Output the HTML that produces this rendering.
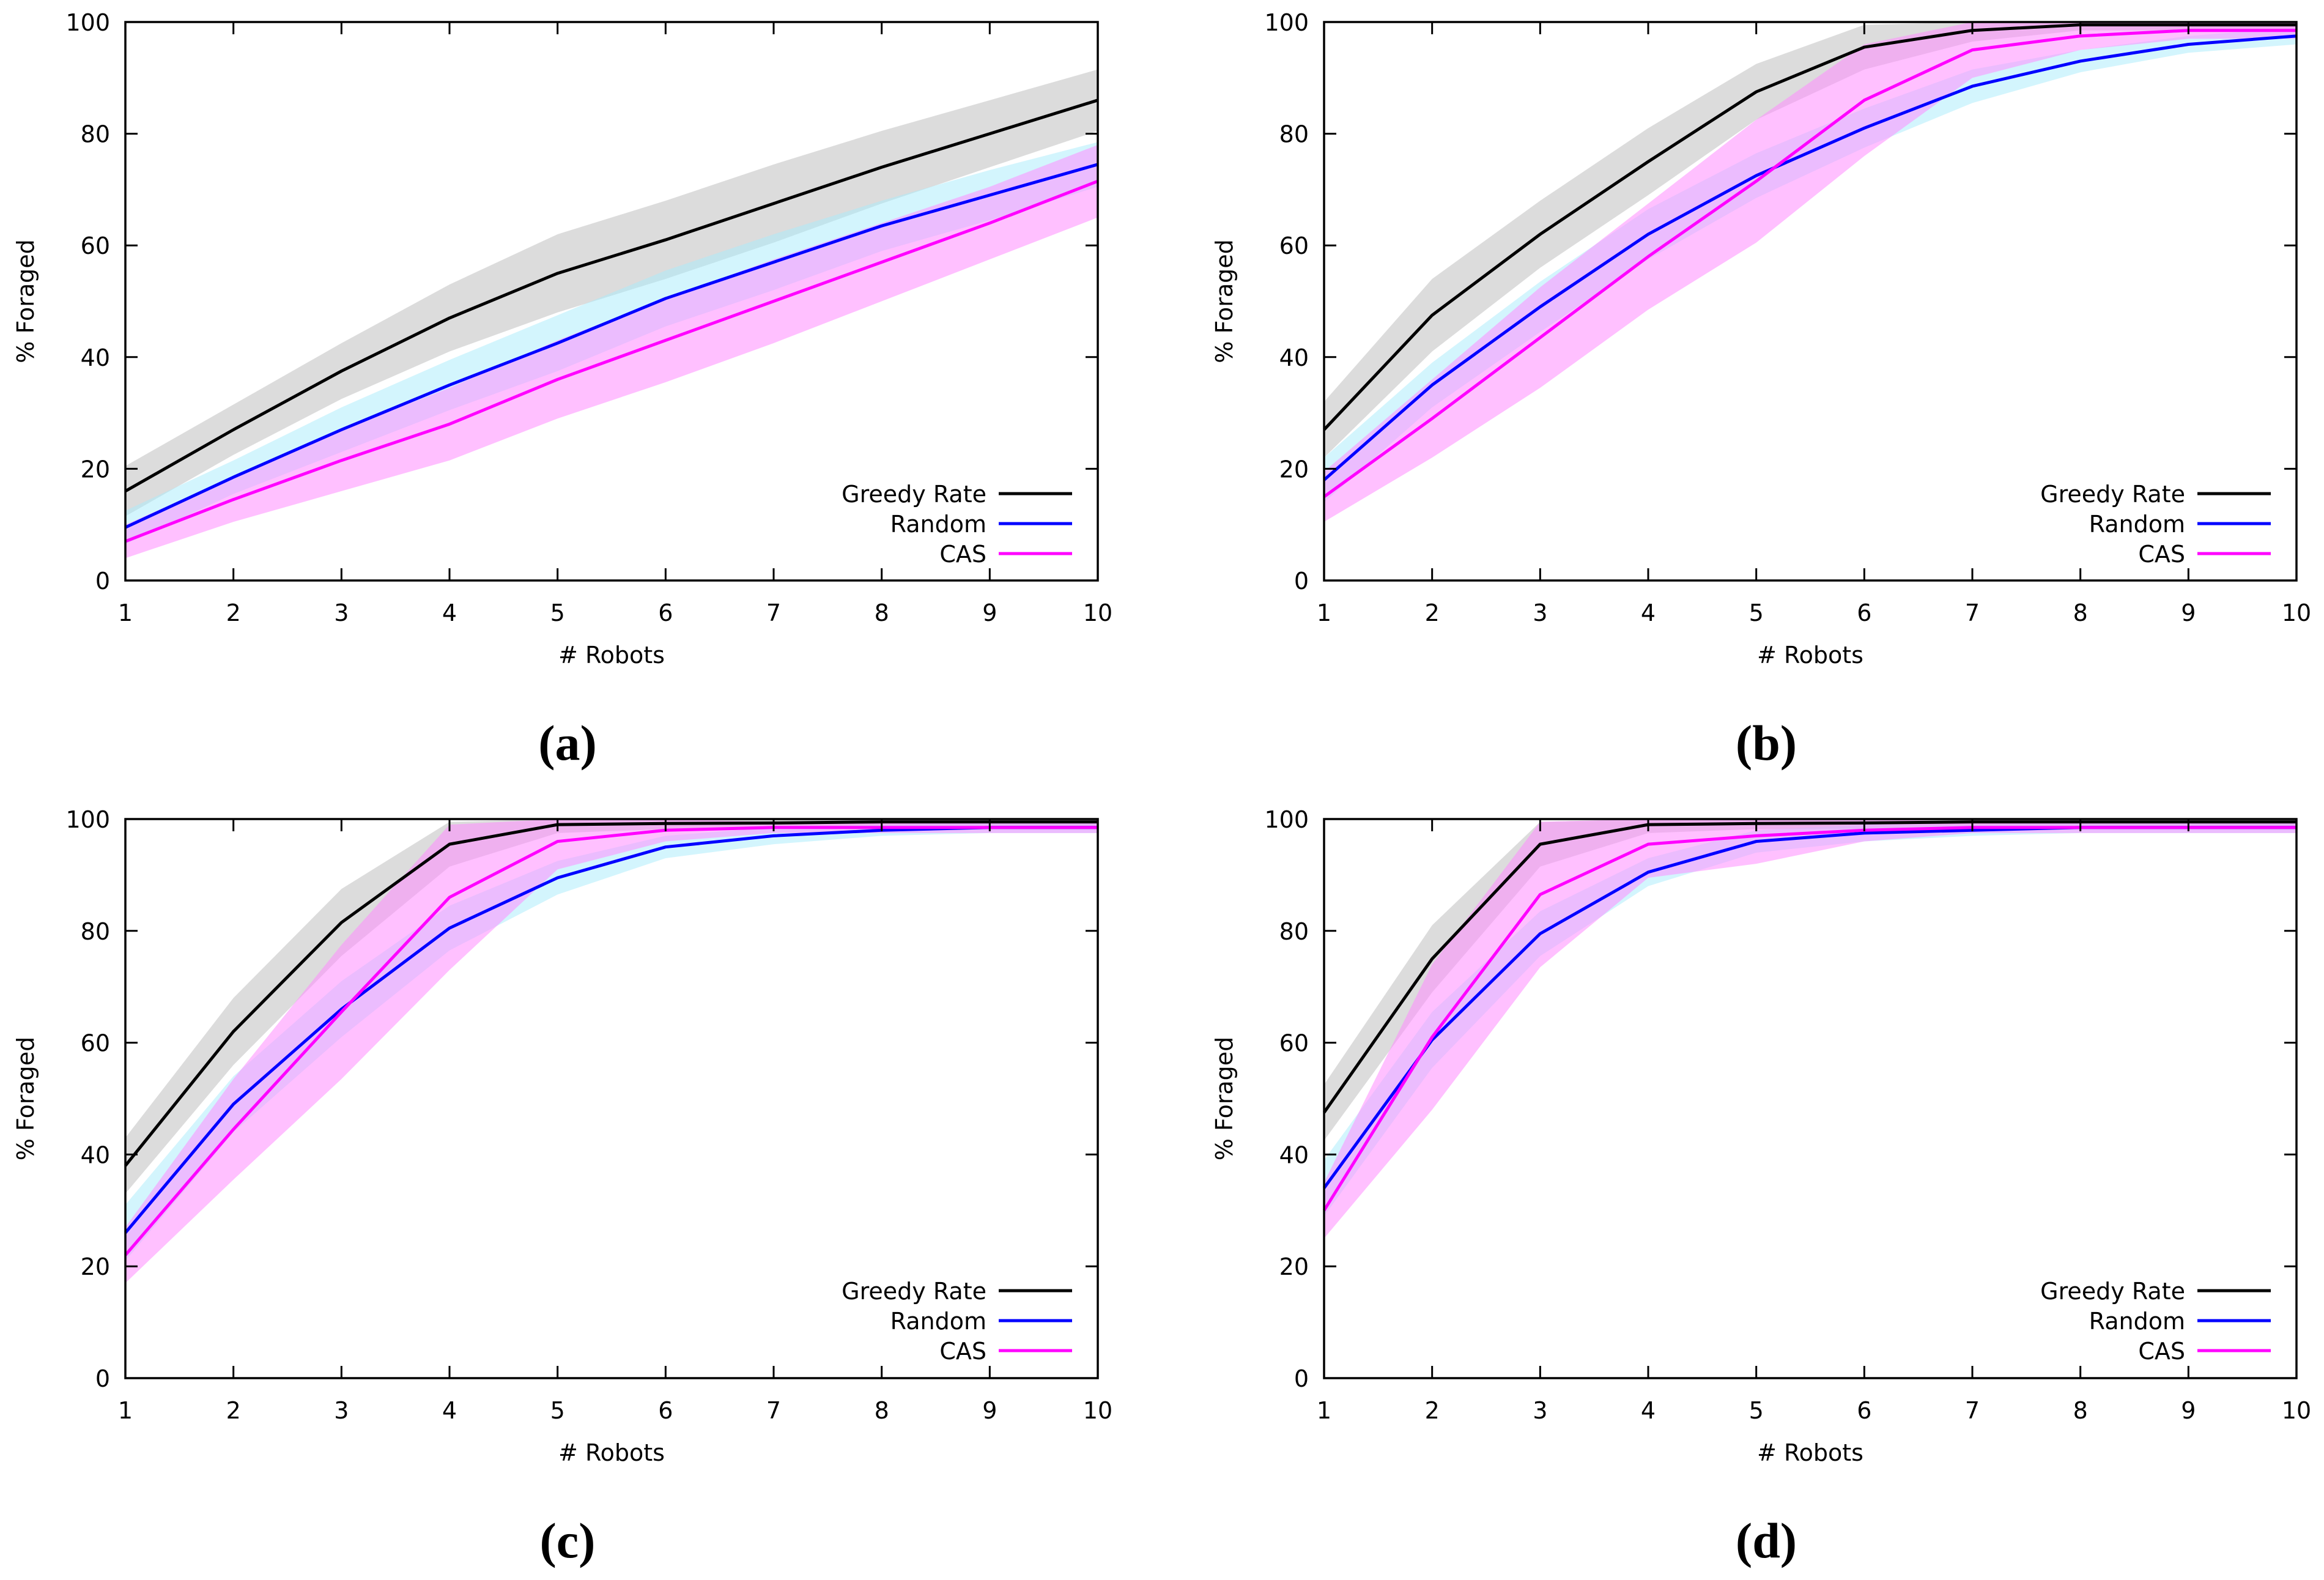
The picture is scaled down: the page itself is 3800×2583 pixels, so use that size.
<!DOCTYPE html>
<html><head><meta charset="utf-8"><style>
html,body{margin:0;padding:0;background:#fff;}
svg{display:block;font-family:"DejaVu Sans","Liberation Sans",sans-serif;}
</style></head><body>
<svg id="fig" width="3800" height="2583" viewBox="0 0 3800 2583"></svg>
<script>
const categories=[1,2,3,4,5,6,7,8,9,10];
const yTicks=[0,20,40,60,80,100];
const panelLabels=['a','b','c','d'];
const seriesNames=['Greedy Rate','Random','CAS'];
// panel a
const aGreedy=[16,27,37.5,47,55,61,67.5,74,80,86];
const aGreedyErr=[4.5,4.5,5,6,7,7,7,6.5,6,5.5];
const aRandom=[9.5,18.5,27,35,42.5,50.5,57,63.5,69,74.5];
const aRandomErr=[3,3,4,4.5,5,5,5,4.5,4.5,4];
const aCAS=[7,14.5,21.5,28,36,43,50,57,64,71.5];
const aCASErr=[3,4,5.5,6.5,7,7.5,7.5,7,6.5,6.5];
// panel b
const bGreedy=[27,47.5,62,75,87.5,95.5,98.5,99.5,99.5,99.5];
const bGreedyErr=[5,6.5,6,6,5,4,2,1,1,1];
const bRandom=[18,35,49,62,72.5,81,88.5,93,96,97.5];
const bRandomErr=[4,4,4.5,4.5,4,3.5,3,2,1.5,1.5];
const bCAS=[15,29,43.5,58,71.5,86,95,97.5,98.5,98.5];
const bCASErr=[4.5,7,9,9.5,11,10,5,2.5,1.5,1.5];
// panel c
const cGreedy=[38,62,81.5,95.5,99,99.2,99.3,99.5,99.5,99.5];
const cGreedyErr=[5,6,6,4,1.5,1,1,1,1,1];
const cRandom=[26,49,66,80.5,89.5,95,97,98,98.5,98.5];
const cRandomErr=[5,5,5,4,3,2,1.5,1,1,1];
const cCAS=[22,44.5,65.5,86,96,98,98.5,98.5,98.5,98.5];
const cCASErr=[5,9,12,13,5,2,1,1,1,1];
// panel d
const dGreedy=[47.5,75,95.5,99,99.2,99.3,99.5,99.5,99.5,99.5];
const dGreedyErr=[5,6,4,1.5,1,1,1,1,1,1];
const dRandom=[34,60.5,79.5,90.5,96,97.5,98,98.5,98.5,98.5];
const dRandomErr=[5,5,4,2.5,2,1.5,1,1,1,1];
const dCAS=[30,61,86.5,95.5,97,98,98.5,98.5,98.5,98.5];
const dCASErr=[5,13,13,6,5,2,1,1,1,1];

const panelData=[
 [[aGreedy,aGreedyErr],[aRandom,aRandomErr],[aCAS,aCASErr]],
 [[bGreedy,bGreedyErr],[bRandom,bRandomErr],[bCAS,bCASErr]],
 [[cGreedy,cGreedyErr],[cRandom,cRandomErr],[cCAS,cCASErr]],
 [[dGreedy,dGreedyErr],[dRandom,dRandomErr],[dCAS,dCASErr]]
];
const boxes=[[205,36,1795,949],[2165,36,3755,949],[205,1339,1795,2253],[2165,1339,3755,2253]];
const lineColors=['#000000','#0000ff','#ff00ff'];
const bandColors=['#d0d0d0','#a8ecfb','#ff8cff'];
const bandOpac=[0.75,0.5,0.55];
const NS='http://www.w3.org/2000/svg';
const svg=document.getElementById('fig');
function mk(tag,attrs,parent){const e=document.createElementNS(NS,tag);for(const k in attrs)e.setAttribute(k,attrs[k]);(parent||svg).appendChild(e);return e;}

boxes.forEach((b,pi)=>{
  const [L,T,R,B]=b;
  const g=mk('g',{});
  
  
  const xs=v=>L+(v-1)*(R-L)/9;
  const ys=v=>B-Math.min(v,100)*(B-T)/100;
  panelData[pi].forEach((s,si)=>{
    const [vals,err]=s;
    let d='M'+categories.map((c,i)=>xs(c)+','+ys(vals[i]+err[i])).join(' L');
    for(let i=categories.length-1;i>=0;i--) d+=' L'+xs(categories[i])+','+ys(Math.max(0,vals[i]-err[i]));
    d+='Z';
    const p=mk('path',{d:d,fill:bandColors[si],'fill-opacity':bandOpac[si],stroke:'none'},g);
    
    
  });
  panelData[pi].forEach((s,si)=>{
    const [vals]=s;
    const pts=categories.map((c,i)=>xs(c)+','+ys(vals[i])).join(' ');
    const p=mk('polyline',{points:pts,fill:'none',stroke:lineColors[si],'stroke-width':5,'stroke-linejoin':'round'},g);
    
    
  });
  yTicks.forEach(t=>{
    const y=ys(t);
    mk('line',{x1:L,y1:y,x2:L+20,y2:y,stroke:'#000','stroke-width':3},g);
    mk('line',{x1:R,y1:y,x2:R-20,y2:y,stroke:'#000','stroke-width':3},g);
    const tx=mk('text',{x:L-25,y:y+14,'font-size':38,'text-anchor':'end',fill:'#000'},g);
    tx.textContent=t;
    
    
  });
  categories.forEach(c=>{
    const x=xs(c);
    mk('line',{x1:x,y1:B,x2:x,y2:B-20,stroke:'#000','stroke-width':3},g);
    mk('line',{x1:x,y1:T,x2:x,y2:T+20,stroke:'#000','stroke-width':3},g);
    const tx=mk('text',{x:x,y:B+66,'font-size':38,'text-anchor':'middle',fill:'#000'},g);
    tx.textContent=c;
    
    
  });
  const frame=mk('rect',{x:L,y:T,width:R-L,height:B-T,fill:'none',stroke:'#000','stroke-width':3.5},g);
  
  
  const xt=mk('text',{x:(L+R)/2,y:B+135,'font-size':38,'text-anchor':'middle',fill:'#000'},g);
  xt.textContent='# Robots';
  
  
  const yc=(T+B)/2;
  const yt=mk('text',{x:L-150,y:yc,'font-size':38,'text-anchor':'middle',fill:'#000',transform:'rotate(-90 '+(L-150)+' '+yc+')'},g);
  yt.textContent='% Foraged';
  
  
  seriesNames.forEach((n,si)=>{
    const ly=T+771+si*49;
    const lt=mk('text',{x:R-182,y:ly+14,'font-size':38,'text-anchor':'end',fill:'#000'},g);
    lt.textContent=n;
    
    
    const ll=mk('line',{x1:R-162,y1:ly,x2:R-42,y2:ly,stroke:lineColors[si],'stroke-width':5},g);
    
    
  });
  const cap=mk('text',{x:(L+R)/2-72,y:B+293,'font-size':82,'font-weight':'bold','text-anchor':'middle',fill:'#000','font-family':'"Liberation Serif",serif'},g);
  cap.textContent='('+panelLabels[pi]+')';
  
  
});
</script>
</body></html>
